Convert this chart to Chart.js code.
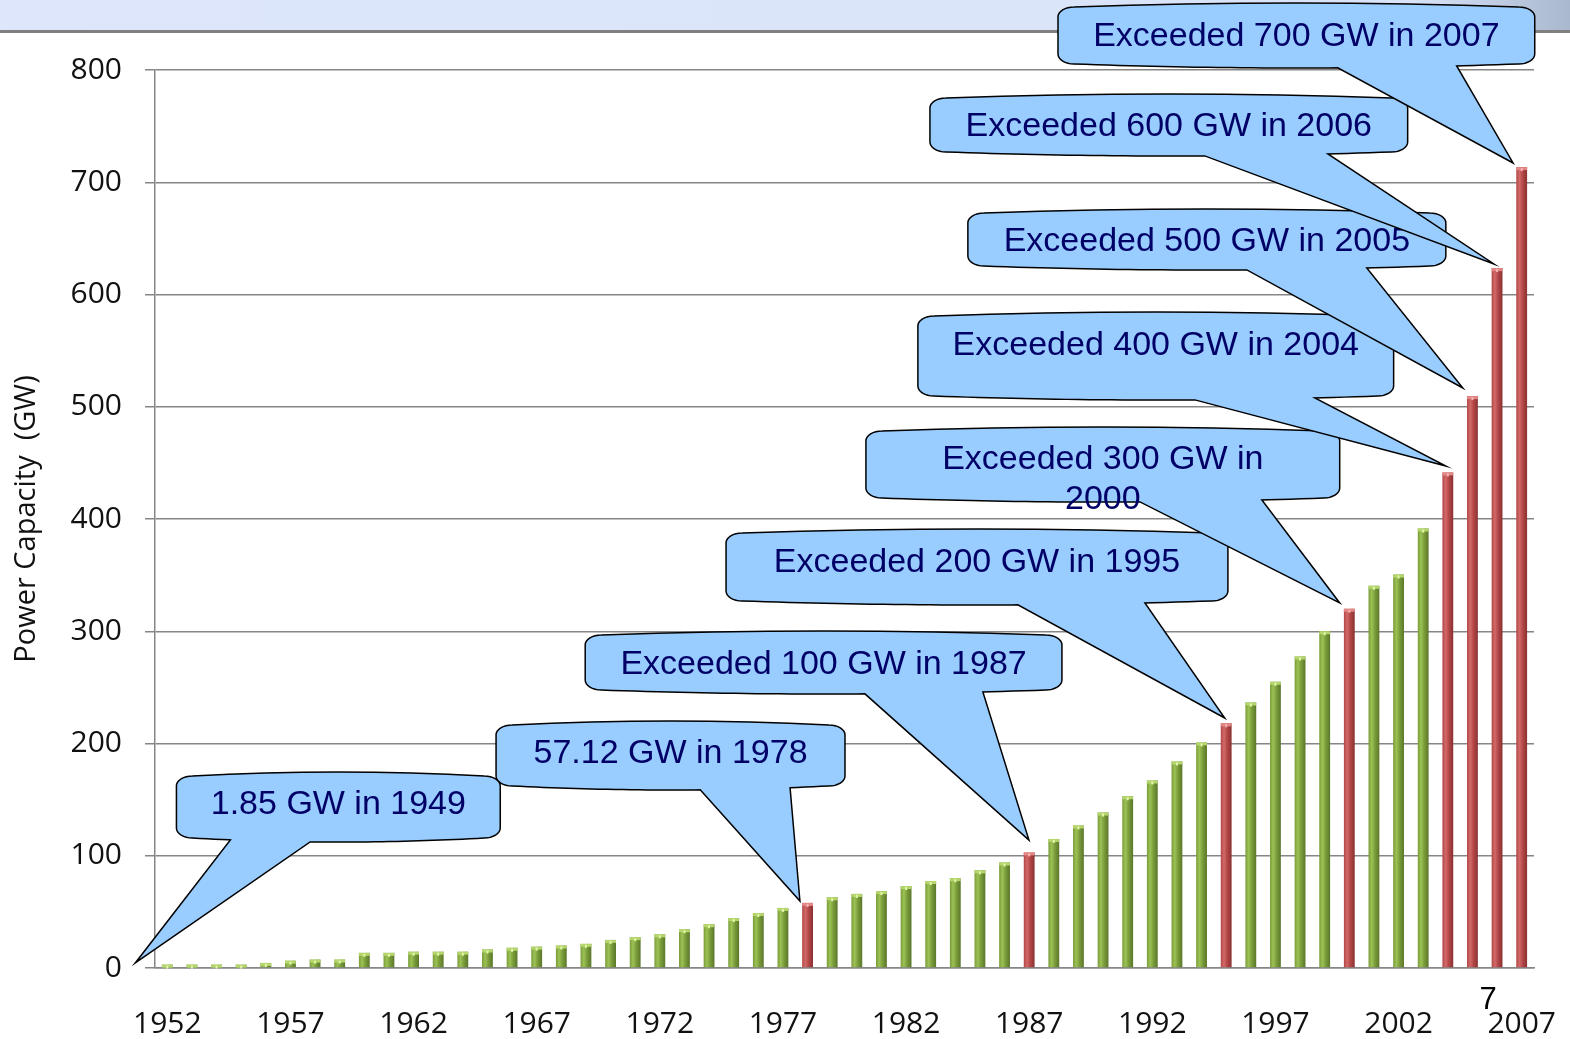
<!DOCTYPE html>
<html>
<head>
<meta charset="utf-8">
<script src="https://cdn.jsdelivr.net/npm/chart.js@4.4.1/dist/chart.umd.min.js"></script>
<style>
  html, body { margin: 0; padding: 0; background: #fff; }
  #wrap { width: 1570px; height: 1039px; }
</style>
</head>
<body>
<div id="wrap"><canvas id="capacityChart" width="1570" height="1039"></canvas></div>
<script>
// --- data ---
const years = [
  '1952','1953','1954','1955','1956','1957','1958','1959','1960','1961',
  '1962','1963','1964','1965','1966','1967','1968','1969','1970','1971',
  '1972','1973','1974','1975','1976','1977','1978','1979','1980','1981',
  '1982','1983','1984','1985','1986','1987','1988','1989','1990','1991',
  '1992','1993','1994','1995','1996','1997','1998','1999','2000','2001',
  '2002','2003','2004','2005','2006','2007'
];
const capacityGW = [
  3, 3, 3, 3, 4.5, 6.5, 7.5, 7.5, 13.5, 13.5,
  14.5, 14.5, 14.5, 16.5, 18, 19, 20, 21.5, 25, 27.5,
  30, 34.5, 39, 44.5, 49, 53.5, 58, 63, 66, 68.5,
  73, 77.5, 80, 87, 94, 103, 115, 127, 138.5, 153,
  167, 184, 201, 218, 236.5, 255, 277.5, 300, 320, 340.5,
  350.5, 391.5, 441.5, 509.5, 623.5, 713.5
];
const milestoneYears = [1978, 1987, 1995, 2000, 2004, 2005, 2006, 2007];
const labelYears = [1952, 1957, 1962, 1967, 1972, 1977, 1982, 1987, 1992, 1997, 2002, 2007];

// callouts, in drawing order: box [left year, right year, top GW, bottom GW],
// pointer base [year, year], tip [year, GW]
const callouts = [
  { lines: ['57.12 GW in 1978'], box: [1965.35, 1979.52, 220.0, 158.6], base: [1973.64, 1977.29], tip: [1977.69, 59.7], textY: 192.4 },
  { lines: ['1.85 GW in 1949'], box: [1952.37, 1965.52, 174.6, 112.2], base: [1954.56, 1957.80], tip: [1950.70, 4.5], textY: 147.0 },
  { lines: ['Exceeded 100 GW in 1987'], box: [1968.97, 1988.33, 300.2, 244.1], base: [1980.33, 1985.12], tip: [1986.99, 114.0], textY: 271.7 },
  { lines: ['Exceeded 200 GW in 1995'], box: [1974.69, 1995.07, 391.1, 323.4], base: [1986.54, 1991.70], tip: [1994.94, 222.7], textY: 362.6 },
  { lines: ['Exceeded 300 GW in', '2000'], box: [1980.37, 1999.61, 482.0, 415.1], base: [1991.50, 1996.45], tip: [1999.61, 325.2], textY: 454.3 },
  { lines: ['Exceeded 400 GW in 2004'], box: [1982.48, 2001.80, 584.4, 506.0], base: [1993.73, 1998.60], tip: [2003.92, 447.2], textY: 555.9 },
  { lines: ['Exceeded 500 GW in 2005'], box: [1984.51, 2003.92, 676.2, 621.8], base: [1995.84, 2000.71], tip: [2004.61, 516.7], textY: 648.6 },
  { lines: ['Exceeded 600 GW in 2006'], box: [1982.97, 2002.37, 778.6, 723.4], base: [1994.13, 1999.13], tip: [2005.87, 627.2], textY: 751.0 },
  { lines: ['Exceeded 700 GW in 2007'], box: [1988.17, 2007.53, 859.7, 801.8], base: [1999.53, 2004.36], tip: [2006.65, 717.2], textY: 831.2 }
];

const isMilestone = i => milestoneYears.includes(Number(years[i]));

const GREEN = ['#9cc255', '#7a9c3a', '#5a772a'];
const RED = ['#d06a68', '#b34646', '#893232'];

function barFill(context) {
  const chart = context.chart;
  const pal = isMilestone(context.dataIndex) ? RED : GREEN;
  const xs = chart.scales.x;
  if (!chart.chartArea || !xs) return pal[1];
  const cx = xs.getPixelForValue(context.dataIndex);
  const w = xs.width / years.length * 0.44;
  const g = chart.ctx.createLinearGradient(cx - w / 2, 0, cx + w / 2, 0);
  g.addColorStop(0, pal[1]);
  g.addColorStop(0.3, pal[0]);
  g.addColorStop(0.6, pal[1]);
  g.addColorStop(1, pal[2]);
  return g;
}

// header band, page number
const slideBackground = {
  id: 'slideBackground',
  beforeDraw(chart) {
    const ctx = chart.ctx;
    ctx.save();
    const g = ctx.createLinearGradient(0, 0, chart.width, 0);
    g.addColorStop(0, '#dde6fb');
    g.addColorStop(0.9, '#dae4f8');
    g.addColorStop(1, '#a9b8cf');
    ctx.fillStyle = g;
    ctx.fillRect(0, 0, chart.width, 31);
    ctx.fillStyle = '#808080';
    ctx.fillRect(0, 30, chart.width, 3);
    ctx.restore();
  },
  afterDraw(chart) {
    const ctx = chart.ctx;
    ctx.save();
    ctx.fillStyle = '#000';
    ctx.font = '31px "Liberation Sans", Arial, sans-serif';
    ctx.textAlign = 'center';
    ctx.textBaseline = 'middle';
    ctx.fillText('7', 1488, 1000);
    ctx.restore();
  }
};

// lighter caps on top of the bars
const barCaps = {
  id: 'barCaps',
  afterDatasetsDraw(chart) {
    const ctx = chart.ctx;
    const meta = chart.getDatasetMeta(0);
    ctx.save();
    meta.data.forEach((bar, i) => {
      const w = bar.width;
      ctx.fillStyle = isMilestone(i) ? '#e38886' : '#b4d66c';
      ctx.fillRect(bar.x - w / 2, bar.y, w, 3);
      ctx.fillStyle = isMilestone(i) ? '#f4b4b2' : '#e2f5a8';
      ctx.fillRect(bar.x - 1, bar.y + 1, 2, 3);
    });
    ctx.restore();
  }
};

// box with slightly bulging top/bottom edges and a wedge pointer
function calloutPath(ctx, l, t, r, b, ba, bb, tx, ty) {
  const rx = 16, ry = 10, s = 4, k = 0.45;
  const xl = l + rx, xr = r - rx;
  const botY = x => { const u = (x - xl) / (xr - xl); return b - s + 4 * s * u * (1 - u); };
  ctx.beginPath();
  ctx.moveTo(xl, t + s);
  ctx.quadraticCurveTo((l + r) / 2, t - s, xr, t + s);
  ctx.bezierCurveTo(r - rx * k, t + s, r, t + s + ry * k, r, t + s + ry);
  ctx.lineTo(r, b - s - ry);
  ctx.bezierCurveTo(r, b - s - ry * k, r - rx * k, b - s, xr, b - s);
  const n = 40;
  let pointerDone = false;
  for (let j = 1; j <= n; j++) {
    const x = xr - (xr - xl) * j / n;
    if (!pointerDone && x <= bb) {
      ctx.lineTo(bb, botY(bb));
      ctx.lineTo(tx, ty);
      ctx.lineTo(ba, botY(ba));
      pointerDone = true;
      continue;
    }
    if (pointerDone && x > ba) continue;
    ctx.lineTo(x, botY(x));
  }
  ctx.bezierCurveTo(l + rx * k, b - s, l, b - s - ry * k, l, b - s - ry);
  ctx.lineTo(l, t + s + ry);
  ctx.bezierCurveTo(l, t + s + ry * k, l + rx * k, t + s, xl, t + s);
  ctx.closePath();
}

const calloutPlugin = {
  id: 'callouts',
  afterDraw(chart) {
    const { ctx, scales: { x, y } } = chart;
    const p0 = x.getPixelForValue(0), p1 = x.getPixelForValue(1);
    const first = Number(years[0]);
    const px = yr => p0 + (yr - first) * (p1 - p0);
    const py = v => y.getPixelForValue(v);
    ctx.save();
    callouts.forEach(c => {
      const l = px(c.box[0]), r = px(c.box[1]), t = py(c.box[2]), b = py(c.box[3]);
      calloutPath(ctx, l, t, r, b, px(c.base[0]), px(c.base[1]), px(c.tip[0]), py(c.tip[1]));
      ctx.fillStyle = '#99ccff';
      ctx.fill();
      ctx.lineWidth = 1.5;
      ctx.strokeStyle = '#000';
      ctx.stroke();
      ctx.fillStyle = '#000066';
      ctx.font = '34px "Liberation Sans", Arial, sans-serif';
      ctx.textAlign = 'center';
      ctx.textBaseline = 'middle';
      c.lines.forEach((line, j) => ctx.fillText(line, (l + r) / 2, py(c.textY) + 2 + j * 40));
    });
    ctx.restore();
  }
};

const tickFont = { family: '"Open Sans", "DejaVu Sans", sans-serif', size: 30 };

new Chart(document.getElementById('capacityChart'), {
  type: 'bar',
  data: {
    labels: years,
    datasets: [{
      label: 'Power Capacity (GW)',
      data: capacityGW,
      backgroundColor: barFill,
      borderWidth: 0,
      barPercentage: 0.44,
      categoryPercentage: 1.0
    }]
  },
  options: {
    responsive: false,
    animation: false,
    layout: { padding: { top: 70, right: 36, left: 0, bottom: 0 } },
    plugins: { legend: { display: false }, tooltip: { enabled: false } },
    scales: {
      x: {
        offset: true,
        grid: { display: false, drawTicks: false },
        border: { display: true, color: '#868686', width: 1.5 },
        ticks: {
          autoSkip: false, maxRotation: 0, padding: 38, color: '#111', font: tickFont,
          callback: (v, i) => labelYears.includes(Number(years[i])) ? years[i] : ''
        },
        afterFit: s => { s.height = 71; s.paddingLeft = 0; s.paddingRight = 0; }
      },
      y: {
        min: 0, max: 800,
        ticks: { stepSize: 100, padding: 23, color: '#111', font: tickFont },
        grid: { color: '#868686', lineWidth: 1.5, tickLength: 10 },
        border: { color: '#868686', width: 1.5 },
        title: {
          display: true, text: 'Power Capacity  (GW)', color: '#111',
          font: { family: '"Open Sans", "DejaVu Sans", sans-serif', size: 29 },
          padding: { top: 9, bottom: 0 }
        },
        afterFit: s => { s.width = 155; s.paddingTop = 0; s.paddingBottom = 0; }
      }
    }
  },
  plugins: [slideBackground, barCaps, calloutPlugin]
});
</script>
</body>
</html>
